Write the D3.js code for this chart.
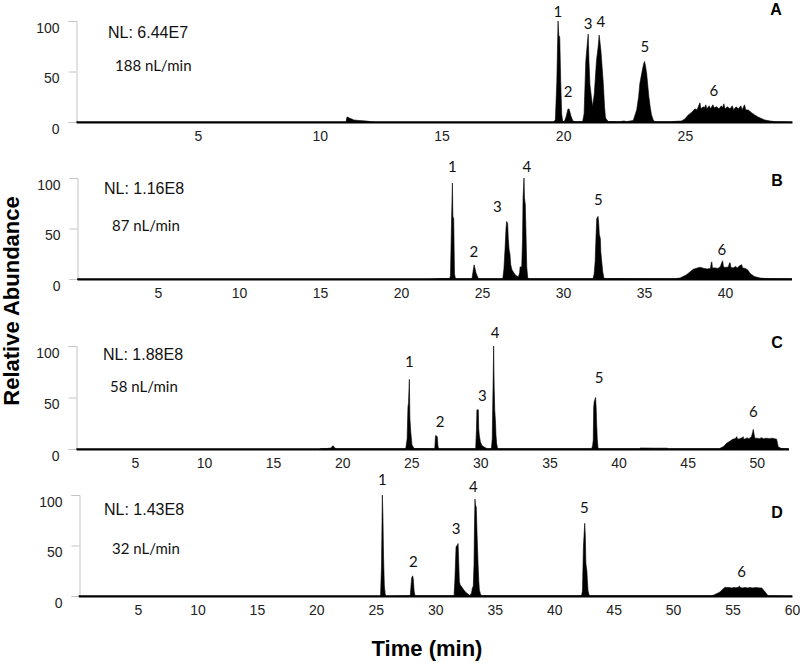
<!DOCTYPE html>
<html><head><meta charset="utf-8">
<script src="https://cdn.jsdelivr.net/npm/d3@7"></script>
<style>
html,body{margin:0;padding:0;background:#fff;}
svg{display:block;}
</style>
</head><body>
<svg id="chart" width="800" height="663"></svg>
<script>
// ---------------- DATA ----------------
const panelNames = ["A", "B", "C", "D"];
const nlTexts = ["NL: 6.44E7", "NL: 1.16E8", "NL: 1.88E8", "NL: 1.43E8"];
const flowTexts = ["188 nL/min", "87 nL/min", "58 nL/min", "32 nL/min"];
const yTicks = [0, 50, 100];
const xTicksA = [5, 10, 15, 20, 25];
const xTicksB = [5, 10, 15, 20, 25, 30, 35, 40];
const xTicksC = [5, 10, 15, 20, 25, 30, 35, 40, 45, 50];
const xTicksD = [5, 10, 15, 20, 25, 30, 35, 40, 45, 50, 55, 60];
const xDomainA = [0, 29.4];
const xDomainB = [0, 44.1];
const xDomainC = [0.75, 52.3];
const xDomainD = [0, 60];

// [time (min), relative abundance]
const traceA = [[0,0],[11.08,0],[11.12,5],[11.18,4.5],[11.25,3.5],[11.32,3],[11.4,2],[11.6,1.5],[11.9,1],[12.1,0.3],[12.3,0],
[19.6,0],[19.68,2],[19.74,40],[19.79,100],[19.82,86],[19.86,84],[19.9,40],[19.94,8],[19.98,0.5],
[20.05,0.5],[20.12,5],[20.2,13],[20.25,12.5],[20.32,6],[20.4,1],[20.5,0.3],
[20.8,0.5],[20.86,8],[20.93,60],[21.0,80],[21.03,87],[21.06,60],[21.1,37],[21.16,25],[21.21,15],
[21.28,28],[21.37,61],[21.44,75],[21.48,86],[21.55,71],[21.65,38],[21.7,15],[21.74,4],[21.85,0.5],
[22.3,0.3],[22.5,1],[22.6,0.3],[22.75,1],[22.88,1.5],[23.02,12],[23.1,25],[23.15,38],[23.25,51],[23.3,57],[23.34,60],[23.38,56],[23.43,48],[23.52,25],[23.58,14],[23.63,7],[23.7,2],[23.77,0.3],
[24.4,0.3],[24.86,1],[25.0,3],[25.14,7],[25.3,10],[25.41,13],[25.5,12],[25.58,17],[25.62,19],[25.66,13],[25.75,15],[25.8,14],[25.86,17],[25.9,13],[26.0,16],[26.05,13],[26.15,17],[26.2,14],[26.3,15],[26.4,13],[26.5,16],[26.55,14],[26.6,18],[26.65,13],[26.75,15],[26.85,13],[26.95,16],[27.0,12],[27.1,15],[27.2,13],[27.3,16],[27.35,12],[27.45,17],[27.5,12],[27.6,12],[27.75,9],[27.87,7],[28.0,5],[28.28,2],[28.5,1],[28.7,0.3],[29.4,0]];

const traceB = [[0,0],[21.7,0],[22.5,0.5],[23.0,0.5],[23.05,3],[23.12,60],[23.17,95],[23.2,62],[23.25,60],[23.3,5],[23.36,0.3],
[24.38,0.3],[24.45,8],[24.51,14],[24.57,10],[24.63,6],[24.7,3],[24.78,0.3],
[26.28,0.3],[26.35,10],[26.42,30],[26.48,50],[26.52,57],[26.58,55],[26.62,40],[26.67,29],[26.72,25],[26.77,14],[26.85,9],[26.93,7],[27.05,4],[27.24,2],
[27.32,6],[27.35,12],[27.45,12],[27.5,40],[27.53,80],[27.59,100],[27.62,80],[27.67,74],[27.72,40],[27.76,12],[27.82,1],[27.9,0.3],
[31.85,0.3],[31.92,5],[31.98,17],[32.03,40],[32.08,60],[32.16,62],[32.2,55],[32.24,44],[32.3,40],[32.33,27],[32.4,15],[32.45,7],[32.53,0.5],
[36.9,0.3],[37.22,1],[37.6,4],[38.04,9.6],[38.3,11],[38.46,11.6],[38.7,10.5],[38.9,10],[39.1,10.5],[39.15,16],[39.18,17],[39.22,11],[39.4,11],[39.55,10.5],[39.7,12],[39.82,17],[39.85,18],[39.9,12],[40.05,11.5],[40.2,12],[40.28,16],[40.31,16],[40.36,11.5],[40.5,11],[40.65,12.5],[40.75,11],[40.9,13],[41.0,14],[41.03,14],[41.08,11],[41.25,10.5],[41.4,9],[41.54,5.6],[41.8,2.5],[42.16,0.9],[42.6,0.4],[44.1,0.3]];

const traceC = [[0.75,0],[18.3,0],[18.5,0.5],[18.9,0.5],[19.2,1],[19.3,3],[19.36,3],[19.45,1],[19.6,0.3],
[24.6,0.3],[24.7,10],[24.76,41],[24.8,45],[24.86,67.6],[24.9,30],[24.96,17],[25.05,4],[25.2,0.5],
[26.7,0.3],[26.74,10],[26.76,13],[26.85,12.5],[26.88,12],[26.93,3],[26.97,0.3],
[29.66,0.3],[29.72,20],[29.75,38],[29.85,38],[29.88,20],[29.92,13.6],[30.0,7],[30.09,4],[30.2,2.5],[30.33,1.5],[30.5,0.3],
[30.8,0.3],[30.86,10],[30.89,38],[30.93,70],[30.96,100],[31.0,60],[31.04,38],[31.1,25],[31.13,13.6],[31.18,5],[31.25,0.3],
[38.05,0.3],[38.12,3],[38.17,8.7],[38.2,40],[38.24,46],[38.34,50],[38.38,40],[38.41,26.5],[38.46,10],[38.52,0.3],
[41.5,0.3],[41.6,1],[42.5,0.8],[43.5,0.8],[43.6,0.3],
[47.3,0.3],[47.6,2.5],[47.82,5.5],[48.05,7.5],[48.3,9.7],[48.45,10],[48.55,12],[48.62,9.5],[48.78,10],[48.95,11],[49.02,12],[49.06,9.5],[49.2,10],[49.3,11],[49.4,10],[49.5,10.5],[49.62,12],[49.7,16],[49.75,19],[49.8,15],[49.86,10.5],[50.0,10.5],[50.2,10],[50.35,11],[50.5,10],[50.7,10.5],[50.9,10],[51.1,10.5],[51.3,10],[51.44,9.5],[51.56,2],[51.8,0.5],[52.3,0.3]];

const traceD = [[0,0],[25.3,0],[25.4,0.5],[25.48,30],[25.55,100],[25.6,80],[25.65,40],[25.72,10],[25.8,1],[25.9,0],
[27.9,0.3],[27.96,10],[28.02,18],[28.1,20],[28.16,16],[28.22,5],[28.3,0.3],
[31.58,0.3],[31.65,15],[31.75,49],[31.85,50],[31.92,52],[31.97,35],[32.03,14],[32.1,11],[32.23,9],[32.4,6],[32.55,4],[32.65,2.7],[32.8,1.5],[32.92,0.5],
[33.05,3],[33.12,7.6],[33.2,10],[33.26,32],[33.3,70],[33.34,96],[33.38,90],[33.45,88],[33.52,60],[33.6,32],[33.66,15],[33.71,6],[33.8,2],[33.9,0.3],
[42.3,0.3],[42.38,5],[42.46,49],[42.57,72],[42.62,60],[42.66,35],[42.68,31],[42.75,25],[42.79,16],[42.85,5],[42.96,0.3],
[53.2,0.3],[53.39,0.8],[53.7,2.5],[53.95,4],[54.15,6.5],[54.37,8.6],[54.5,8.3],[54.7,8.5],[54.9,8],[55.1,8.4],[55.3,8.2],[55.5,8.6],[55.58,10],[55.65,8.3],[55.85,8],[56.05,8.5],[56.25,8],[56.45,8.4],[56.7,8],[56.9,8.3],[57.1,8.2],[57.3,8],[57.46,8],[57.6,6],[57.74,4],[57.9,1.5],[58.0,0.3],[60,0]];

// peak labels: [label, time, abundance at text baseline]
const peakLabelsA = [["1",19.78,104],["2",20.2,24.8],["3",21.02,92],["4",21.55,94],["5",23.36,69],["6",26.19,25.7]];
const peakLabelsB = [["1",23.17,106],["2",24.5,21.8],["3",25.94,66],["4",27.76,106],["5",32.18,73],["6",39.8,23.8]];
const peakLabelsC = [["1",24.86,79.6],["2",27.08,21.4],["3",30.14,46.6],["4",31.06,107.8],["5",38.6,64],["6",49.75,31]];
const peakLabelsD = [["1",25.55,110],["2",28.15,28.7],["3",31.75,61.4],["4",33.2,103],["5",42.54,82],["6",55.77,18.8]];

// ---------------- LAYOUT ----------------
const layout = [
  {trace: traceA, labels: peakLabelsA, ticks: xTicksA, domain: xDomainA, x0: 76.25, x1: 792, top: 21, base: 122, nl: [108, 38], flow: [115, 71], letter: [776, 15]},
  {trace: traceB, labels: peakLabelsB, ticks: xTicksB, domain: xDomainB, x0: 77, x1: 791.5, top: 178, base: 279, nl: [104, 194], flow: [112, 231], letter: [777, 186]},
  {trace: traceC, labels: peakLabelsC, ticks: xTicksC, domain: xDomainC, x0: 76.2, x1: 788.5, top: 346, base: 449, nl: [103, 360], flow: [110, 392], letter: [777, 348]},
  {trace: traceD, labels: peakLabelsD, ticks: xTicksD, domain: xDomainD, x0: 78.5, x1: 792, top: 495, base: 596, nl: [104, 515], flow: [112, 554], letter: [777, 518]}
];

const svg = d3.select("#chart");

layout.forEach((p, i) => {
  const x = d3.scaleLinear().domain(p.domain).range([p.x0, p.x1]);
  const y = d3.scaleLinear().domain([0, 100]).range([p.base, p.top]);
  const axisX = Math.round(p.x0) + 0.5;
  const g = svg.append("g");

  // y axis (gray)
  const yAxis = g.append("g").attr("transform", `translate(${axisX},0)`)
    .call(d3.axisLeft(y).tickValues(yTicks).tickSize(8).tickPadding(9).tickFormat(d3.format("d")));
  yAxis.selectAll("path, line").attr("stroke", "#c4c4c4").attr("stroke-width", 1);
  yAxis.selectAll("text").attr("font-family", "Liberation Sans, Arial, sans-serif")
    .attr("font-size", 14).attr("fill", "#222").attr("dy", "0.82em");

  // chromatogram area
  const area = d3.area().x(d => x(d[0])).y0(y(0)).y1(d => y(d[1]));
  g.append("path").datum(p.trace).attr("d", area).attr("fill", "#000").attr("stroke", "#000").attr("stroke-width", 0.6);

  // x axis baseline
  const xAxis = g.append("g").attr("transform", `translate(0,${p.base})`)
    .call(d3.axisBottom(x).tickValues(p.ticks).tickSize(0).tickPadding(9).tickSizeOuter(0).tickFormat(d3.format("d")));
  xAxis.select(".domain").attr("stroke", "#000").attr("stroke-width", 2);
  xAxis.selectAll("text").attr("font-family", "Liberation Sans, Arial, sans-serif")
    .attr("font-size", 14).attr("fill", "#222");

  // peak labels
  g.selectAll("text.peak").data(p.labels).enter().append("text")
    .attr("class", "peak")
    .attr("x", d => x(d[1])).attr("y", d => y(d[2]))
    .attr("text-anchor", "middle")
    .attr("font-family", "Lato, Open Sans, sans-serif").attr("font-size", 15).attr("fill", "#111")
    .text(d => d[0]);

  // NL text
  g.append("text").attr("x", p.nl[0]).attr("y", p.nl[1])
    .attr("font-family", "Liberation Sans, Arial, sans-serif").attr("font-size", 16).attr("fill", "#111")
    .text(nlTexts[i]);
  // flow text
  g.append("text").attr("x", p.flow[0]).attr("y", p.flow[1])
    .attr("font-family", "Lato, Open Sans, sans-serif").attr("font-size", 15).attr("fill", "#111")
    .text(flowTexts[i]);
  // panel letter
  g.append("text").attr("x", p.letter[0]).attr("y", p.letter[1])
    .attr("text-anchor", "middle")
    .attr("font-family", "Liberation Sans, Arial, sans-serif").attr("font-weight", "bold").attr("font-size", 16).attr("fill", "#000")
    .text(panelNames[i]);
});

// axis titles
svg.append("text").attr("transform", "translate(19,301) rotate(-90)")
  .attr("text-anchor", "middle")
  .attr("font-family", "Liberation Sans, Arial, sans-serif").attr("font-weight", "bold").attr("font-size", 22).attr("fill", "#000")
  .text("Relative Abundance");
svg.append("text").attr("x", 427).attr("y", 656)
  .attr("text-anchor", "middle")
  .attr("font-family", "Liberation Sans, Arial, sans-serif").attr("font-weight", "bold").attr("font-size", 22).attr("fill", "#000")
  .text("Time (min)");
</script>
</body></html>
